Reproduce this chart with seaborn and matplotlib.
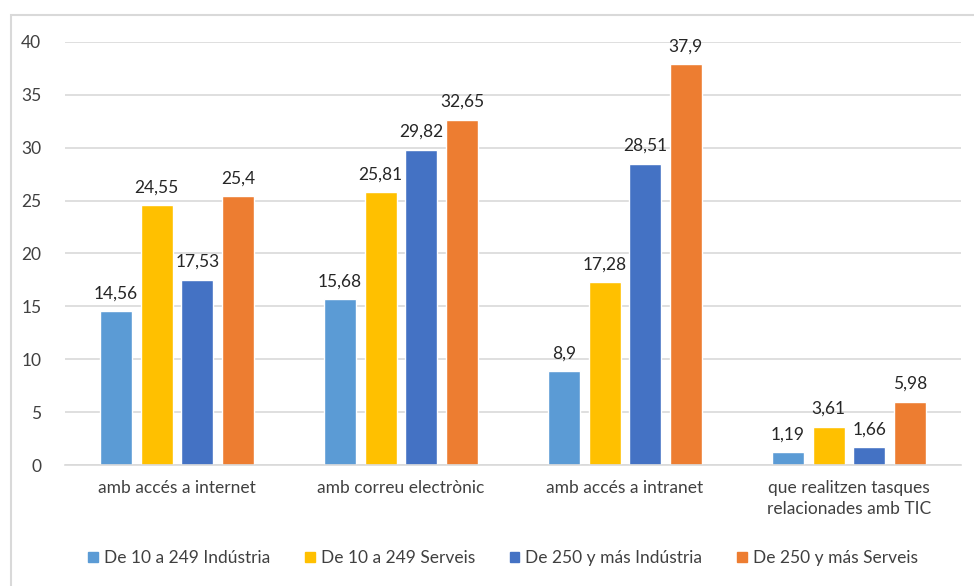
import matplotlib
matplotlib.use("Agg")
import matplotlib.pyplot as plt
import matplotlib.patches as mpatches
import seaborn as sns
import pandas as pd

categories = [
    "amb accés a internet",
    "amb correu electrònic",
    "amb accés a intranet",
    "que realitzen tasques\nrelacionades amb TIC",
]
series_names = [
    "De 10 a 249 Indústria",
    "De 10 a 249 Serveis",
    "De 250 y más Indústria",
    "De 250 y más Serveis",
]
ind_10_249 = [14.56, 15.68, 8.9, 1.19]
serv_10_249 = [24.55, 25.81, 17.28, 3.61]
ind_250 = [17.53, 29.82, 28.51, 1.66]
serv_250 = [25.4, 32.65, 37.9, 5.98]
y_ticks = [0, 5, 10, 15, 20, 25, 30, 35, 40]

colors = ["#5B9BD5", "#FFC000", "#4472C4", "#ED7D31"]

rows = []
for name, vals in zip(series_names, [ind_10_249, serv_10_249, ind_250, serv_250]):
    for cat, v in zip(categories, vals):
        rows.append({"categoria": cat, "grup": name, "valor": v})
df = pd.DataFrame(rows)

sns.set_theme(style="white")
plt.rcParams["font.family"] = ["Lato", "DejaVu Sans"]

FS = 12.5
fig = plt.figure(figsize=(9.74, 5.86), dpi=100)
W, H = 974, 586
ax = fig.add_axes([65 / W, 1 - 465 / H, (961 - 65) / W, (465 - 42) / H])

sns.barplot(
    data=df, x="categoria", y="valor", hue="grup",
    order=categories, hue_order=series_names, palette=colors,
    width=0.725, gap=0.21, saturation=1, errorbar=None, ax=ax,
)

for cont in ax.containers:
    labels = [f"{v:g}".replace(".", ",") for v in cont.datavalues]
    ax.bar_label(cont, labels=labels, padding=7, fontsize=FS, color="#262626")

ax.set_ylim(0, 40)
ax.set_xlim(-0.5, 3.5)
ax.set_yticks(y_ticks)
ax.set_yticklabels([str(t) for t in y_ticks])
ax.yaxis.grid(True, color="#D9D9D9", linewidth=1.2)
ax.set_axisbelow(True)
for s in ["left", "right", "top"]:
    ax.spines[s].set_visible(False)
ax.spines["bottom"].set_color("#D9D9D9")
ax.spines["bottom"].set_linewidth(1.2)
ax.tick_params(axis="both", length=0, labelsize=FS, colors="#404040")
ax.tick_params(axis="y", pad=17)
ax.tick_params(axis="x", pad=11)
for lbl in ax.get_xticklabels():
    lbl.set_linespacing(1.35)
ax.set_xlabel("")
ax.set_ylabel("")

handles = [mpatches.Patch(color=c, label=n) for c, n in zip(colors, series_names)]
ax.get_legend().remove()
fig.legend(
    handles=handles, loc="center", bbox_to_anchor=(503 / W, 1 - 558 / H),
    ncol=4, frameon=False, fontsize=FS, handlelength=0.55, handleheight=0.55,
    handletextpad=0.35, columnspacing=2.0, labelcolor="#404040",
)

fig.patches.append(mpatches.Rectangle(
    (11 / W, -0.05), 1.2, 1 - 15 / H + 0.05, transform=fig.transFigure,
    fill=False, edgecolor="#D9D9D9", linewidth=1.5,
))

fig.savefig("out.png", dpi=100)
